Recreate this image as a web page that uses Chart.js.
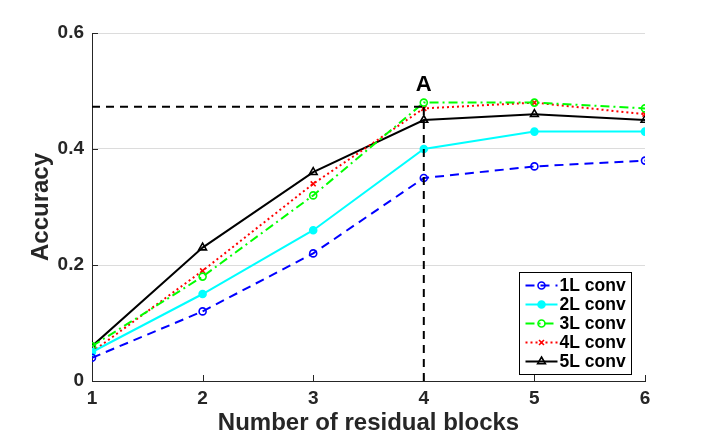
<!DOCTYPE html>
<html>
<head>
<meta charset="utf-8">
<script src="https://cdn.jsdelivr.net/npm/chart.js@4"></script>
<style>
  html, body { margin: 0; padding: 0; background: #fff; }
  canvas { display: block; }
</style>
</head>
<body>
<canvas id="accChart" width="712" height="438"></canvas>
<script>
const blocks = [1, 2, 3, 4, 5, 6];
const acc1L = [0.04, 0.12, 0.22, 0.35, 0.37, 0.38];
const acc2L = [0.05, 0.15, 0.26, 0.40, 0.43, 0.43];
const acc3L = [0.06, 0.18, 0.32, 0.48, 0.48, 0.47];
const acc4L = [0.05, 0.19, 0.34, 0.47, 0.48, 0.46];
const acc5L = [0.06, 0.23, 0.36, 0.45, 0.46, 0.45];
const seriesNames = ['1L conv', '2L conv', '3L conv', '4L conv', '5L conv'];
const yTicks = [0, 0.2, 0.4, 0.6];

// reference lines marking point A
const refX = [1, 4];
const refY = [0.473, 0.473];
const vertX = [4, 4];
const vertY = [0, 0.475];
const labelA = { x: 4, y: 0.51, text: 'A' };

const textColor = '#262626';
const font = 'Liberation Sans, Arial, Helvetica, sans-serif';

function pts(xs, ys) {
    return xs.map((x, i) => ({ x: x, y: ys[i] }));
}

function series(label, values, color, dash, style, filled) {
    return {
        label: label,
        data: pts(blocks, values),
        borderColor: color,
        backgroundColor: filled ? color : '#fff',
        borderWidth: 2,
        borderDash: dash,
        pointStyle: style,
        pointRadius: style === 'triangle' ? 4.5 : 3.5,
        pointBorderWidth: 1.6,
        pointBorderColor: color,
        pointBackgroundColor: filled ? color : 'rgba(0,0,0,0)',
        fill: false,
        tension: 0,
        inLegend: true
    };
}

const refStyle = {
    borderColor: '#000',
    borderWidth: 2,
    borderDash: [8, 6],
    pointRadius: 0,
    fill: false,
    inLegend: false
};

// inward ticks, "A" label and the boxed legend
const extras = {
    id: 'extras',
    afterDraw(chart) {
        const c = chart.ctx;
        const xs = chart.scales.x, ys = chart.scales.y;
        const a = chart.chartArea;
        c.save();
        c.strokeStyle = textColor;
        c.lineWidth = 1;
        blocks.forEach(v => {
            const px = Math.round(xs.getPixelForValue(v)) + 0.5;
            c.beginPath(); c.moveTo(px, a.bottom); c.lineTo(px, a.bottom - 6); c.stroke();
        });
        yTicks.forEach(v => {
            const py = Math.round(ys.getPixelForValue(v)) + 0.5;
            c.beginPath(); c.moveTo(a.left, py); c.lineTo(a.left + 6, py); c.stroke();
        });

        c.fillStyle = '#000';
        c.font = 'bold 22px ' + font;
        c.textAlign = 'center';
        c.textBaseline = 'middle';
        c.fillText(labelA.text, xs.getPixelForValue(labelA.x), ys.getPixelForValue(labelA.y));

        // legend
        const items = chart.data.datasets.filter(d => d.inLegend);
        const bx = 519.5, by = 272.5, bw = 112, bh = 102;
        c.fillStyle = '#fff';
        c.fillRect(bx, by, bw, bh);
        c.strokeStyle = '#000';
        c.lineWidth = 1;
        c.strokeRect(bx, by, bw, bh);
        c.font = 'bold 17.5px ' + font;
        c.textAlign = 'left';
        items.forEach((d, i) => {
            const y = by + 13 + i * 19;
            c.strokeStyle = d.borderColor;
            c.lineWidth = d.borderWidth;
            c.setLineDash(d.borderDash || []);
            c.beginPath(); c.moveTo(bx + 6, y); c.lineTo(bx + 38, y); c.stroke();
            c.setLineDash([]);
            c.lineWidth = d.pointBorderWidth;
            c.fillStyle = d.pointBackgroundColor;
            Chart.helpers.drawPoint(c, {
                pointStyle: d.pointStyle,
                radius: d.pointRadius,
                borderWidth: d.pointBorderWidth
            }, bx + 22, y);
            c.fillStyle = '#000';
            c.fillText(d.label, bx + 40, y + 1);
        });
        c.restore();
    }
};

new Chart(document.getElementById('accChart'), {
    type: 'line',
    data: {
        datasets: [
            Object.assign({ data: pts(refX, refY) }, refStyle),
            Object.assign({ data: pts(vertX, vertY) }, refStyle),
            series(seriesNames[0], acc1L, '#0000ff', [9, 6], 'circle', false),
            series(seriesNames[1], acc2L, '#00ffff', [], 'circle', true),
            series(seriesNames[2], acc3L, '#00ff00', [9, 4, 2, 4], 'circle', false),
            series(seriesNames[3], acc4L, '#ff0000', [2, 3], 'crossRot', false),
            series(seriesNames[4], acc5L, '#000000', [], 'triangle', false)
        ]
    },
    options: {
        responsive: false,
        animation: false,
        devicePixelRatio: 1,
        layout: { padding: { top: 33, right: 67, left: 0, bottom: 0 } },
        plugins: { legend: { display: false }, tooltip: { enabled: false } },
        scales: {
            x: {
                type: 'linear',
                min: 1,
                max: 6,
                afterFit(s) { s.height = 57; },
                afterBuildTicks(s) { s.ticks = blocks.map(v => ({ value: v })); },
                grid: { display: false, drawTicks: false },
                border: { display: true, color: textColor, width: 1 },
                ticks: {
                    color: textColor,
                    padding: 6,
                    font: { family: font, size: 19, weight: 'bold' }
                },
                title: {
                    display: true,
                    text: 'Number of residual blocks',
                    color: textColor,
                    padding: { top: 2, bottom: 0 },
                    font: { family: font, size: 24, weight: 'bold' }
                }
            },
            y: {
                min: 0,
                max: 0.6,
                afterFit(s) { s.width = 92; },
                afterBuildTicks(s) { s.ticks = yTicks.map(v => ({ value: v })); },
                grid: {
                    drawTicks: false,
                    color: ctx => ctx.tick && ctx.tick.value === 0 ? 'rgba(0,0,0,0)' : '#dcdcdc',
                    lineWidth: 1
                },
                border: { display: true, color: textColor, width: 1 },
                ticks: {
                    color: textColor,
                    padding: 8,
                    font: { family: font, size: 19, weight: 'bold' },
                    callback: v => v === 0 ? '0' : v.toFixed(1)
                },
                title: {
                    display: true,
                    text: 'Accuracy',
                    color: textColor,
                    padding: { top: 27, bottom: 0 },
                    font: { family: font, size: 24, weight: 'bold' }
                }
            }
        }
    },
    plugins: [extras]
});
</script>
</body>
</html>
